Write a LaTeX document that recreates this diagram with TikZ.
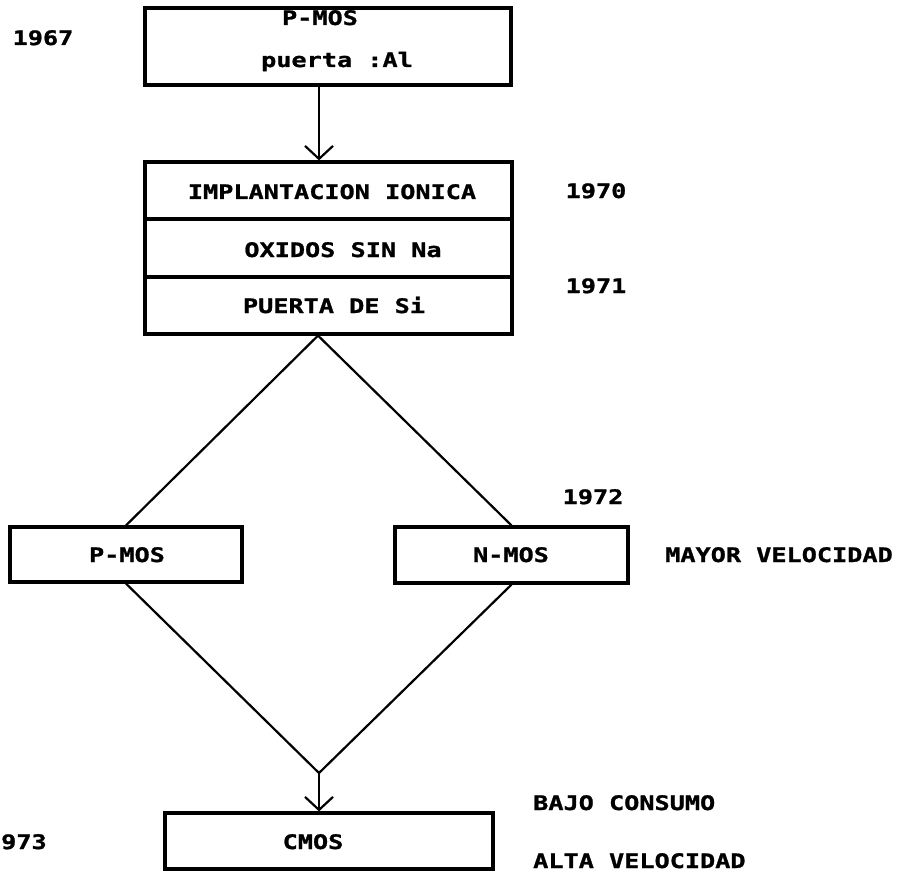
\documentclass[tikz,border=0pt]{standalone}
\usepackage{fontspec}
\newfontfamily\plotfont{DejaVu Sans Mono Bold}[FakeStretch=1.26, FakeBold=1.2]
\usetikzlibrary{arrows.meta}

\begin{document}
\begin{tikzpicture}[x=1pt, y=-1pt,
  box/.style={draw, line width=3.2pt, inner sep=0pt},
  txt/.style={font=\plotfont\fontsize{20}{20}\selectfont, inner sep=0pt, anchor=base},
  link/.style={line width=2.2pt},
  flow/.style={link, -{Straight Barb[length=13pt, width=28pt, line width=2.2pt]}}]

\useasboundingbox (0,0) rectangle (900,872);

% boxes
\node[box, minimum width=366pt, minimum height=77pt] (pmosAl) at (328,46.5) {};
\node[box, minimum width=367pt, minimum height=57pt] (implant) at (328.5,190.5) {};
\node[box, minimum width=367pt, minimum height=58pt] (oxido) at (328.5,248) {};
\node[box, minimum width=367pt, minimum height=57pt] (puertaSi) at (328.5,305.5) {};
\node[box, minimum width=232pt, minimum height=55pt] (pmos) at (126,554.5) {};
\node[box, minimum width=233pt, minimum height=56pt] (nmos) at (511.5,555) {};
\node[box, minimum width=328pt, minimum height=56pt] (cmos) at (329,841) {};

% texts inside the boxes
\node[txt] (tPmosTop) at (320,25) {P-MOS};
\node[txt] (tPuertaAl) at (337,67) {puerta :Al};
\node[txt] (tImplant) at (332,199) {IMPLANTACION IONICA};
\node[txt] (tOxido) at (343,257) {OXIDOS SIN Na};
\node[txt] (tPuertaSi) at (334,313) {PUERTA DE Si};
\node[txt] (tPmos) at (127,562) {P-MOS};
\node[txt] (tNmos) at (511,562) {N-MOS};
\node[txt] (tCmos) at (313,849) {CMOS};

% years and remarks
\node[txt] (y1967) at (43,45) {1967};
\node[txt] (y1970) at (596,198) {1970};
\node[txt] (y1971) at (596,293) {1971};
\node[txt] (y1972) at (593,504) {1972};
\node[txt, anchor=base west] (y1973) at (1,849) {973};
\node[txt] (rMayor) at (779,562) {MAYOR VELOCIDAD};
\node[txt, anchor=base west] (rBajo) at (533,810) {BAJO CONSUMO};
\node[txt, anchor=base west] (rAlta) at (533,868) {ALTA VELOCIDAD};

% connectors
\coordinate (downx) at (319,0);
\coordinate (splitx) at (318,0);
\coordinate (merge) at (319,773);

\draw[flow] (pmosAl.south -| downx) -- (implant.north -| downx);
\draw[link] (pmos.north) -- (puertaSi.south -| splitx) -- (nmos.north);
\draw[link] (pmos.south) -- (merge) -- (nmos.south);
\draw[flow] (merge) -- (cmos.north -| merge);
\end{tikzpicture}
\end{document}
